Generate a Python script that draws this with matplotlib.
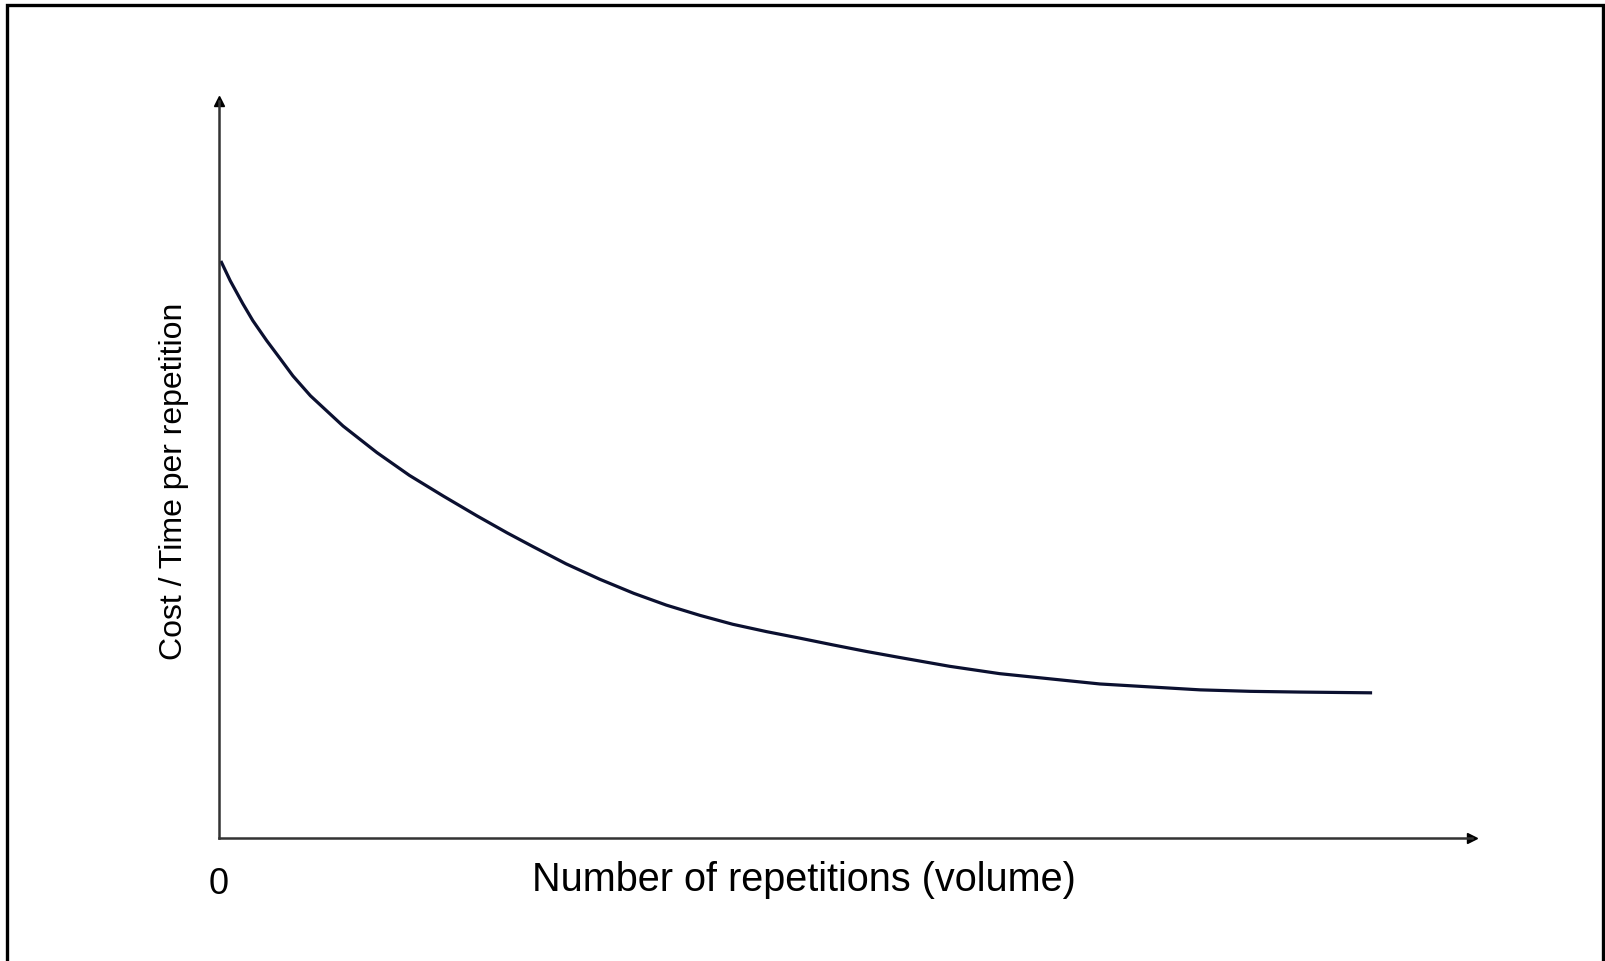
import matplotlib
matplotlib.use("Agg")
import matplotlib.pyplot as plt
from matplotlib.patches import Rectangle

# curve (volume vs cost per repetition, arbitrary units 0-100)
volume = [0.2, 0.9, 1.9, 2.7, 3.8, 4.9, 5.9, 7.3, 9.9, 12.6, 15.2, 17.9,
          20.6, 23.0, 25.1, 27.7, 30.4, 33.1, 35.7, 38.4, 41.0, 43.7,
          46.4, 49.0, 51.7, 54.3, 58.3, 62.3, 66.3, 70.3, 74.3, 78.3,
          82.3, 86.3, 91.9]
cost = [78.1, 75.6, 72.5, 70.2, 67.5, 65.0, 62.7, 60.0, 55.9, 52.3, 49.2, 46.4,
        43.7, 41.4, 39.5, 37.2, 35.1, 33.2, 31.6, 30.2, 29.0, 28.0,
        27.1, 26.2, 25.3, 24.5, 23.3, 22.3, 21.6, 20.9, 20.5, 20.1,
        19.9, 19.8, 19.7]

x_label = "Number of repetitions (volume)"
y_label = "Cost / Time per repetition"
x_ticks = [0]
x_tick_labels = ["0"]

plt.rcParams['font.family'] = ['Liberation Sans', 'DejaVu Sans']

fig = plt.figure(figsize=(16.06, 9.62), dpi=100)
ax = fig.add_axes([219 / 1606, 123 / 962, 1253 / 1606, 737 / 962])

ax.plot(volume, cost, color='#0b1030', lw=2.3, solid_joinstyle='round')

ax.set_xlim(0, 100)
ax.set_ylim(0, 100)

for side in ['top', 'right']:
    ax.spines[side].set_visible(False)
for side in ['left', 'bottom']:
    ax.spines[side].set_color('#333333')
    ax.spines[side].set_linewidth(1.8)

# arrow heads at the end of the axes
ax.plot(1, 0, '>', color='black', ms=7, transform=ax.transAxes, clip_on=False)
ax.plot(0, 1, '^', color='black', ms=7, transform=ax.transAxes, clip_on=False)

ax.set_yticks([])
ax.set_xticks(x_ticks, x_tick_labels)
ax.tick_params(axis='x', length=0, pad=20, labelsize=26)

ax.set_xlabel(x_label, fontsize=28.5, va='center', ha='center')
ax.xaxis.set_label_coords(0.467, -0.0556)
ax.set_ylabel(y_label, fontsize=23, va='center', ha='center')
ax.yaxis.set_label_coords(-0.036, 0.485)

# frame round the picture, open at the bottom edge
fig.patches.append(Rectangle((7 / 1606, -0.05), 1596 / 1606, 1.05 - 6 / 962,
                             transform=fig.transFigure, fill=False,
                             edgecolor='black', lw=2.4))

fig.savefig("out.png", dpi=100)
